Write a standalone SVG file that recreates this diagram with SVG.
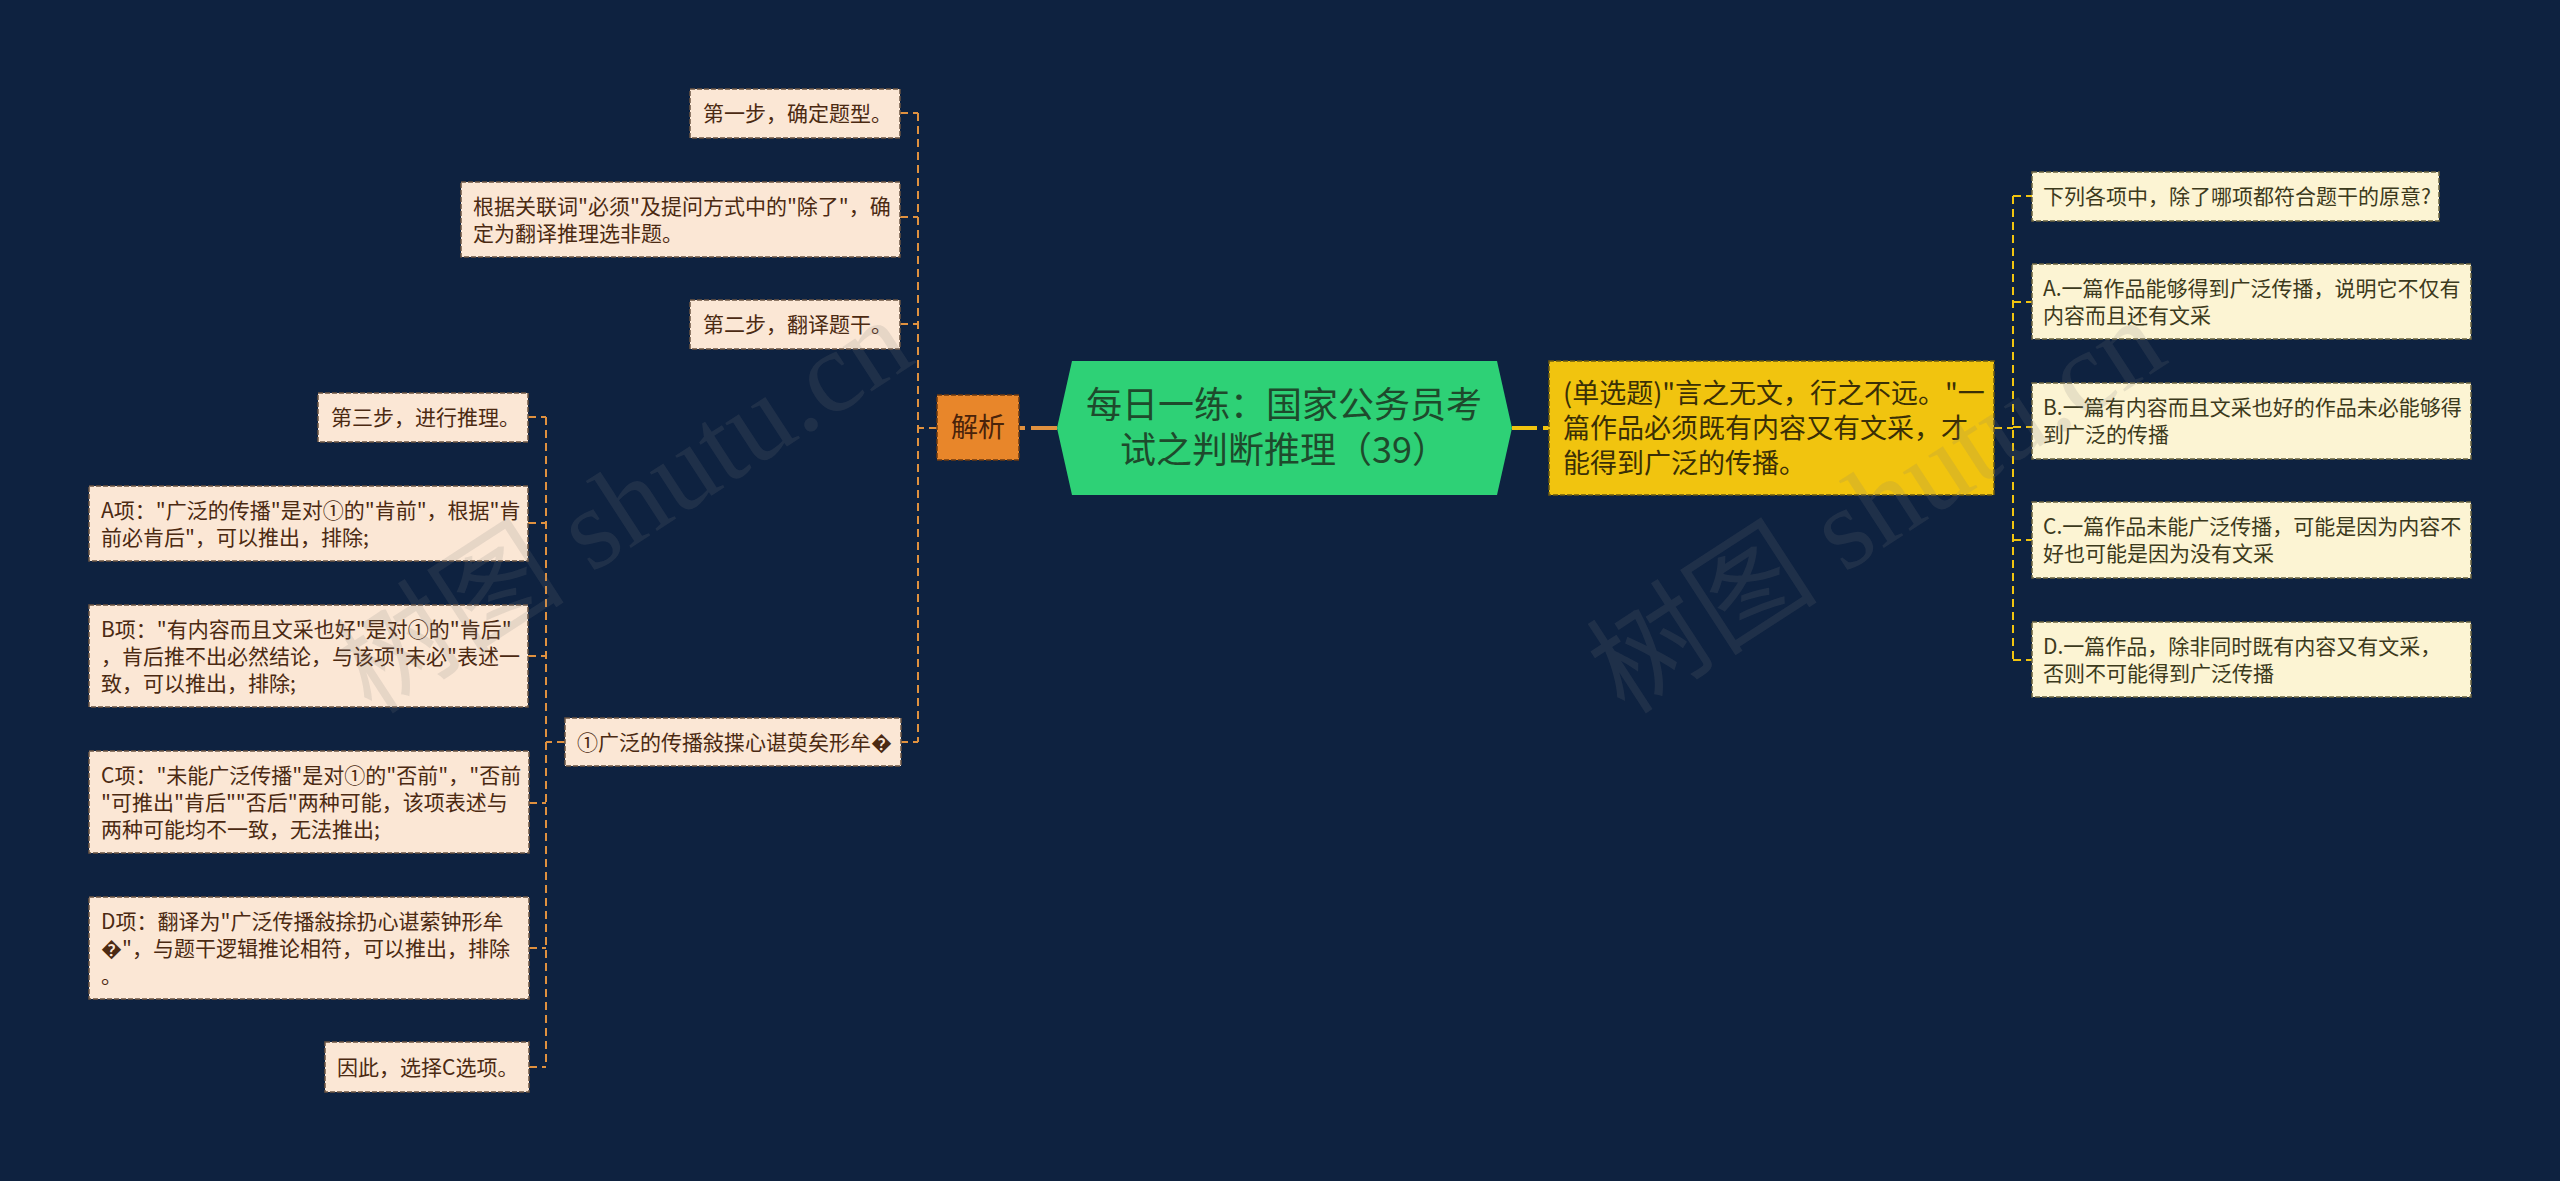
<svg xmlns="http://www.w3.org/2000/svg" width="2560" height="1181" viewBox="0 0 2560 1181">
<style>
.bg{fill:#0e2240}
.lbox{fill:#fbe7d5;stroke:#6b5442;stroke-width:1.5;stroke-dasharray:5 2}
.rbox{fill:#fcf4d3;stroke:#6b6440;stroke-width:1.5;stroke-dasharray:5 2}
.ltxt{font-family:"Noto Sans CJK SC","Microsoft YaHei",sans-serif;font-size:21px;fill:#4b2a12}
.rtxt{font-family:"Noto Sans CJK SC","Microsoft YaHei",sans-serif;font-size:21px;fill:#3c3a1c}
.oc{fill:none;stroke:#e0913f;stroke-width:2;stroke-dasharray:8 5}
.yc{fill:none;stroke:#f1c40f;stroke-width:2;stroke-dasharray:8 5}
.wm{font-family:"Liberation Serif","Noto Sans CJK SC",serif;font-size:116px;fill:#7a7a7a;fill-opacity:0.16}
</style>
<rect class="bg" x="0" y="0" width="2560" height="1181"/>

<g id="connectors">
  <line x1="1031" y1="428" x2="1057" y2="428" stroke="#e0913f" stroke-width="4"/>
  <line x1="1019" y1="428" x2="1025" y2="428" stroke="#e0913f" stroke-width="4"/>
  <line x1="1512" y1="428" x2="1537" y2="428" stroke="#f1c40f" stroke-width="4"/>
  <line x1="1543" y1="428" x2="1549" y2="428" stroke="#f1c40f" stroke-width="4"/>
  <path class="oc" d="M918 113 V742"/>
  <path class="oc" d="M937 428 H918"/>
  <path class="oc" d="M900 113 H918"/>
  <path class="oc" d="M900 217 H918"/>
  <path class="oc" d="M900 324 H918"/>
  <path class="oc" d="M900 742 H918"/>
  <path class="oc" d="M546 417 V1067"/>
  <path class="oc" d="M565 742 H546"/>
  <path class="oc" d="M528 417 H546"/>
  <path class="oc" d="M528 523 H546"/>
  <path class="oc" d="M528 656 H546"/>
  <path class="oc" d="M529 803 H546"/>
  <path class="oc" d="M529 948 H546"/>
  <path class="oc" d="M529 1067 H546"/>
  <path class="yc" d="M2013 196 V660"/>
  <path class="yc" d="M1994 428 H2013"/>
  <path class="yc" d="M2013 196 H2032"/>
  <path class="yc" d="M2013 302 H2032"/>
  <path class="yc" d="M2013 427 H2032"/>
  <path class="yc" d="M2013 540 H2032"/>
  <path class="yc" d="M2013 660 H2032"/>
</g>

<g id="root">
  <polygon points="1057,428 1072,361 1497,361 1512,428 1497,495 1072,495" fill="#2ed176"/>
  <text x="1284" y="418" text-anchor="middle" font-family="'Noto Sans CJK SC','Microsoft YaHei',sans-serif" font-size="36" fill="#1e4a2c">每日一练：国家公务员考</text>
  <text x="1284" y="463" text-anchor="middle" font-family="'Noto Sans CJK SC','Microsoft YaHei',sans-serif" font-size="36" fill="#1e4a2c">试之判断推理（39）</text>
</g>

<g id="jiexi">
  <rect x="937" y="395" width="82" height="65" fill="#e8862a" stroke="#6b3a12" stroke-width="1.5" stroke-dasharray="5 2"/>
  <text x="978" y="437" text-anchor="middle" font-family="'Noto Sans CJK SC','Microsoft YaHei',sans-serif" font-size="27" fill="#4a230a">解析</text>
</g>

<g id="question">
  <rect x="1549" y="361" width="445" height="134" fill="#f1c40f" stroke="#6b5a10" stroke-width="1.5" stroke-dasharray="5 2"/>
  <g font-family="'Noto Sans CJK SC','Microsoft YaHei',sans-serif" font-size="27" fill="#3a2f06">
    <text x="1563" y="403">(单选题)"言之无文，行之不远。"一</text>
    <text x="1563" y="438">篇作品必须既有内容又有文采，才</text>
    <text x="1563" y="473">能得到广泛的传播。</text>
  </g>
</g>

<g id="step1">
  <rect class="lbox" x="690" y="89" width="210" height="49"/>
  <text class="ltxt" x="703" y="121">第一步，确定题型。</text>
</g>
<g id="keyword">
  <rect class="lbox" x="461" y="182" width="439" height="75"/>
  <text class="ltxt" x="473" y="214">根据关联词"必须"及提问方式中的"除了"，确</text>
  <text class="ltxt" x="473" y="241">定为翻译推理选非题。</text>
</g>
<g id="step2">
  <rect class="lbox" x="690" y="300" width="210" height="49"/>
  <text class="ltxt" x="703" y="332">第二步，翻译题干。</text>
</g>
<g id="premise">
  <rect class="lbox" x="565" y="718" width="336" height="48"/>
  <text class="ltxt" x="577" y="750">①广泛的传播敍揲心谌萸矣形牟�</text>
</g>
<g id="step3">
  <rect class="lbox" x="318" y="393" width="210" height="49"/>
  <text class="ltxt" x="331" y="425">第三步，进行推理。</text>
</g>
<g id="optA">
  <rect class="lbox" x="89" y="486" width="439" height="75"/>
  <text class="ltxt" x="101" y="518">A项："广泛的传播"是对①的"肯前"，根据"肯</text>
  <text class="ltxt" x="101" y="545">前必肯后"，可以推出，排除;</text>
</g>
<g id="optB">
  <rect class="lbox" x="89" y="605" width="439" height="102"/>
  <text class="ltxt" x="101" y="637">B项："有内容而且文采也好"是对①的"肯后"</text>
  <text class="ltxt" x="101" y="664">，肯后推不出必然结论，与该项"未必"表述一</text>
  <text class="ltxt" x="101" y="691">致，可以推出，排除;</text>
</g>
<g id="optC">
  <rect class="lbox" x="89" y="751" width="440" height="102"/>
  <text class="ltxt" x="101" y="783">C项："未能广泛传播"是对①的"否前"，"否前</text>
  <text class="ltxt" x="101" y="810">"可推出"肯后""否后"两种可能，该项表述与</text>
  <text class="ltxt" x="101" y="837">两种可能均不一致，无法推出;</text>
</g>
<g id="optD">
  <rect class="lbox" x="89" y="897" width="440" height="102"/>
  <text class="ltxt" x="101" y="929">D项：翻译为"广泛传播敍捈扔心谌萦钟形牟</text>
  <text class="ltxt" x="101" y="956">�"，与题干逻辑推论相符，可以推出，排除</text>
  <text class="ltxt" x="101" y="983">。</text>
</g>
<g id="conclusion">
  <rect class="lbox" x="325" y="1042" width="204" height="50"/>
  <text class="ltxt" x="337" y="1075">因此，选择C选项。</text>
</g>

<g id="ask">
  <rect class="rbox" x="2032" y="172" width="407" height="49"/>
  <text class="rtxt" x="2043" y="204">下列各项中，除了哪项都符合题干的原意?</text>
</g>
<g id="ansA">
  <rect class="rbox" x="2032" y="264" width="439" height="75"/>
  <text class="rtxt" x="2043" y="296">A.一篇作品能够得到广泛传播，说明它不仅有</text>
  <text class="rtxt" x="2043" y="323">内容而且还有文采</text>
</g>
<g id="ansB">
  <rect class="rbox" x="2032" y="383" width="439" height="76"/>
  <text class="rtxt" x="2043" y="415">B.一篇有内容而且文采也好的作品未必能够得</text>
  <text class="rtxt" x="2043" y="442">到广泛的传播</text>
</g>
<g id="ansC">
  <rect class="rbox" x="2032" y="502" width="439" height="76"/>
  <text class="rtxt" x="2043" y="534">C.一篇作品未能广泛传播，可能是因为内容不</text>
  <text class="rtxt" x="2043" y="561">好也可能是因为没有文采</text>
</g>
<g id="ansD">
  <rect class="rbox" x="2032" y="622" width="439" height="75"/>
  <text class="rtxt" x="2043" y="654">D.一篇作品，除非同时既有内容又有文采，</text>
  <text class="rtxt" x="2043" y="681">否则不可能得到广泛传播</text>
</g>

<g id="watermark">
  <text class="wm" transform="translate(372,716) rotate(-33)">树图 shutu.cn</text>
  <text class="wm" transform="translate(1625,716) rotate(-33)">树图 shutu.cn</text>
</g>
</svg>
